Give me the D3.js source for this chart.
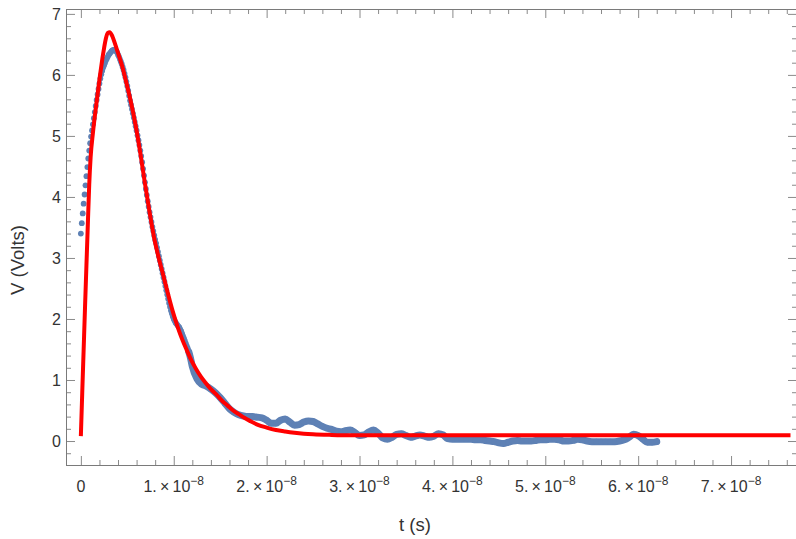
<!DOCTYPE html>
<html>
<head>
<meta charset="utf-8">
<script src="https://cdn.jsdelivr.net/npm/d3@7"></script>
<style>
  body { margin: 0; background: #fff; }
  text { font-family: "Liberation Sans", Arial, sans-serif; }
</style>
</head>
<body>
<svg width="796" height="539"></svg>
<script>
// measured signal, time in ns, voltage in V
// 0.1 ns samples over the pulse
const pulseT = [
  0.0,0.1,0.2,0.3,0.4,0.5,0.6,0.7,0.8,0.9,
  1.0,1.1,1.2,1.3,1.4,1.5,1.6,1.7,1.8,1.9,
  2.0,2.1,2.2,2.3,2.4,2.5,2.6,2.7,2.8,2.9,
  3.0,3.1,3.2,3.3,3.4,3.5,3.6,3.7,3.8,3.9,
  4.0,4.1,4.2,4.3,4.4,4.5,4.6,4.7,4.8,4.9,
  5.0,5.1,5.2,5.3,5.4,5.5,5.6,5.7,5.8,5.9,
  6.0,6.1,6.2,6.3,6.4,6.5,6.6,6.7,6.8,6.9,
  7.0,7.1,7.2,7.3,7.4,7.5,7.6,7.7,7.8,7.9,
  8.0,8.1,8.2,8.3,8.4,8.5,8.6,8.7,8.8,8.9,
  9.0,9.1,9.2,9.3,9.4,9.5,9.6,9.7,9.8,9.9,
  10.0,10.1,10.2,10.3,10.4,10.5,10.6,10.7,10.8,10.9,
  11.0,11.1,11.2,11.3,11.4,11.5,11.6,11.7,11.8,11.9,
  12.0
];
const pulseV = [
  3.40,3.57,3.73,3.89,4.04,4.19,4.34,4.49,4.63,4.76,
  4.88,4.99,5.09,5.19,5.29,5.39,5.49,5.59,5.68,5.77,
  5.86,5.94,6.01,6.07,6.12,6.16,6.20,6.24,6.27,6.30,
  6.33,6.35,6.37,6.39,6.40,6.41,6.41,6.40,6.39,6.37,
  6.33,6.30,6.26,6.22,6.18,6.13,6.08,6.02,5.96,5.89,
  5.82,5.74,5.66,5.58,5.51,5.44,5.37,5.30,5.23,5.16,
  5.09,5.01,4.93,4.85,4.76,4.67,4.57,4.46,4.35,4.24,
  4.13,4.03,3.93,3.84,3.75,3.67,3.59,3.51,3.44,3.37,
  3.30,3.24,3.17,3.10,3.03,2.96,2.89,2.82,2.75,2.68,
  2.61,2.54,2.47,2.40,2.33,2.26,2.20,2.14,2.09,2.04,
  2.00,1.97,1.94,1.92,1.90,1.88,1.86,1.83,1.80,1.76,
  1.72,1.68,1.64,1.60,1.56,1.52,1.47,1.42,1.36,1.29,
  1.22
];
// tail, 0.5 ns samples
const tailT = [
  12.5,13.0,13.5,14.0,14.5,15.0,15.5,16.0,16.5,17.0,
  17.5,18.0,18.5,19.0,19.5,20.0,20.5,21.0,21.5,22.0,
  22.5,23.0,23.5,24.0,24.5,25.0,25.5,26.0,26.5,27.0,
  27.5,28.0,28.5,29.0,29.5,30.0,30.5,31.0,31.5,32.0,
  32.5,33.0,33.5,34.0,34.5,35.0,35.5,36.0,36.5,37.0,
  37.5,38.0,38.5,39.0,39.5,40.0,40.5,41.0,41.5,42.0,
  42.5,43.0,43.5,44.0,44.5,45.0,45.5,46.0,46.5,47.0,
  47.5,48.0,48.5,49.0,49.5,50.0,50.5,51.0,51.5,52.0,
  52.5,53.0,53.5,54.0,54.5,55.0,55.5,56.0,56.5,57.0,
  57.5,58.0,58.5,59.0,59.5,60.0,60.5,61.0,61.5,62.0
];
const tailV = [
  1.02,0.93,0.90,0.85,0.79,0.71,0.62,0.53,0.47,0.43,
  0.41,0.40,0.40,0.39,0.38,0.34,0.29,0.29,0.34,0.36,
  0.31,0.26,0.27,0.31,0.33,0.32,0.28,0.24,0.21,0.19,
  0.16,0.15,0.17,0.18,0.14,0.09,0.10,0.15,0.18,0.13,
  0.05,0.03,0.06,0.11,0.12,0.09,0.06,0.08,0.10,0.08,
  0.06,0.08,0.12,0.10,0.04,0.03,0.03,0.03,0.03,0.03,
  0.02,0.02,0.01,0.00,-0.01,-0.03,-0.04,-0.02,0.00,0.01,
  0.00,0.00,0.00,0.01,0.02,0.02,0.03,0.03,0.02,0.00,
  0.00,0.01,0.03,0.02,0.00,-0.01,-0.01,-0.01,-0.01,-0.01,
  -0.01,0.00,0.02,0.06,0.11,0.09,0.03,-0.02,-0.02,-0.01
];

// fitted curve
const fitT = [
  0,0.15,0.3,0.45,0.6,0.75,0.9,1.05,1.3,1.55,
  1.8,2.05,2.3,2.5,2.7,2.9,3.1,3.4,3.7,4.0,
  4.4,4.9,5.4,5.9,6.4,6.9,7.4,7.9,8.4,8.9,
  9.4,9.9,10.4,10.9,11.4,11.9,12.4,12.9,13.4,14.0,
  14.6,15.2,15.8,16.4,17.0,17.6,18.2,19.0,20.0,21.0,
  22.0,23.0,24.0,25.0,27.0,29.0,32.0,40.0,76.4
];
const fitV = [
  0.08,0.80,1.50,2.20,2.88,3.55,4.20,4.65,5.05,5.38,
  5.68,5.98,6.25,6.44,6.60,6.69,6.70,6.63,6.50,6.36,
  6.17,5.87,5.55,5.17,4.72,4.22,3.75,3.32,2.99,2.70,
  2.40,2.12,1.88,1.67,1.49,1.32,1.18,1.06,0.96,0.85,
  0.76,0.66,0.58,0.50,0.44,0.38,0.33,0.27,0.22,0.18,
  0.155,0.135,0.12,0.11,0.10,0.095,0.095,0.095,0.095
];

const xMajor = [0, 10, 20, 30, 40, 50, 60, 70];
const xLabels = ["0", "1.", "2.", "3.", "4.", "5.", "6.", "7."];
const yMajor = [0, 1, 2, 3, 4, 5, 6, 7];

const svg = d3.select("svg");
const frame = { left: 66, top: 9, right: 797, bottom: 465 };

const x = d3.scaleLinear().domain([-1.6, 77.1]).range([frame.left, frame.right]);
const y = d3.scaleLinear().domain([-0.393, 7.08]).range([frame.bottom, frame.top]);

const xMinor = d3.range(0, 78, 2).filter(v => v % 10 !== 0);
const yMinor = d3.range(-0.2, 7.01, 0.2).map(v => +v.toFixed(1)).filter(v => Math.abs(v - Math.round(v)) > 1e-6);

const tickColor = "#8a8a8a";

function drawTicks(axis, pos, vals, len) {
  svg.append("g")
    .attr("transform", pos)
    .style("color", tickColor)
    .call(axis.tickValues(vals).tickSize(-len).tickFormat(""))
    .call(g => g.select(".domain").remove());
}

drawTicks(d3.axisBottom(x), `translate(0,${frame.bottom})`, xMajor, 9);
drawTicks(d3.axisTop(x), `translate(0,${frame.top})`, xMajor, 9);
drawTicks(d3.axisBottom(x), `translate(0,${frame.bottom})`, xMinor, 5);
drawTicks(d3.axisTop(x), `translate(0,${frame.top})`, xMinor, 5);
drawTicks(d3.axisLeft(y), `translate(${frame.left},0)`, yMajor, 9);
drawTicks(d3.axisLeft(y), `translate(${frame.left},0)`, yMinor, 5);
drawTicks(d3.axisRight(y), `translate(${frame.right},0)`, yMajor, 9);
drawTicks(d3.axisRight(y), `translate(${frame.right},0)`, yMinor, 5);

// frame
svg.append("rect")
  .attr("x", frame.left + 0.5)
  .attr("y", frame.top + 0.5)
  .attr("width", frame.right - frame.left)
  .attr("height", frame.bottom - frame.top)
  .attr("fill", "none")
  .attr("stroke", "#7a7a7a")
  .attr("stroke-width", 1);

// tick labels
const labelColor = "#333";
svg.append("g").selectAll("text")
  .data(yMajor)
  .join("text")
  .attr("x", frame.left - 5)
  .attr("y", d => y(d))
  .attr("dy", "0.36em")
  .attr("text-anchor", "end")
  .attr("font-size", 16)
  .attr("fill", labelColor)
  .text(d => d);

const xl = svg.append("g").selectAll("text")
  .data(xMajor)
  .join("text")
  .attr("x", d => x(d))
  .attr("y", 492)
  .attr("text-anchor", "middle")
  .attr("font-size", 16)
  .attr("fill", labelColor);

xl.each(function(d, i) {
  const t = d3.select(this);
  if (d === 0) { t.text(xLabels[i]); return; }
  t.append("tspan").text(xLabels[i] + "\u2009\u00d7\u200910");
  t.append("tspan").attr("dy", -7).attr("font-size", 12).text("\u22128");
});

// axis titles
svg.append("text")
  .attr("x", 415)
  .attr("y", 531)
  .attr("text-anchor", "middle")
  .attr("font-size", 18.5)
  .attr("fill", labelColor)
  .text("t (s)");

svg.append("text")
  .attr("transform", "translate(24,260) rotate(-90)")
  .attr("text-anchor", "middle")
  .attr("font-size", 18.5)
  .attr("fill", labelColor)
  .text("V (Volts)");

// data
const blue = "#5e81b5";
const pulse = pulseT.map((t, i) => ({ t, v: pulseV[i] }));
const tail = tailT.map((t, i) => ({ t, v: tailV[i] }));
const all = pulse.concat(tail);

const plot = svg.append("g");

// dense tail samples merge into a band
const band = all.filter(d => d.t >= 11.6);
plot.append("path")
  .datum(band)
  .attr("fill", "none")
  .attr("stroke", blue)
  .attr("stroke-width", 7)
  .attr("stroke-linecap", "round")
  .attr("stroke-linejoin", "round")
  .attr("d", d3.line().x(d => x(d.t)).y(d => y(d.v)).curve(d3.curveMonotoneX));

plot.selectAll("circle")
  .data(all)
  .join("circle")
  .attr("cx", d => x(d.t))
  .attr("cy", d => y(d.v))
  .attr("r", 2.9)
  .attr("fill", blue);

// fit
plot.append("path")
  .datum(fitT.map((t, i) => ({ t, v: fitV[i] })))
  .attr("fill", "none")
  .attr("stroke", "#ff0000")
  .attr("stroke-width", 4)
  .attr("stroke-linejoin", "round")
  .attr("d", d3.line().x(d => x(d.t)).y(d => y(d.v)).curve(d3.curveMonotoneX));
</script>
</body>
</html>
